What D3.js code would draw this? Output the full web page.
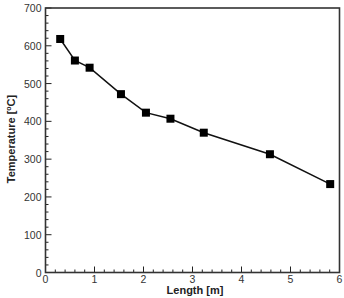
<!DOCTYPE html>
<html><head><meta charset="utf-8">
<script src="https://cdn.jsdelivr.net/npm/d3@7"></script>
<style>body{margin:0;background:#fff}svg{display:block}</style>
</head><body>
<svg id="c" width="344" height="298"></svg>
<script>
const lengths = [0.30, 0.60, 0.90, 1.54, 2.05, 2.55, 3.23, 4.58, 5.81];
const temps = [618, 561, 542, 472, 423, 407, 370, 313, 234];
const xTicks = [0, 1, 2, 3, 4, 5, 6];
const yTicks = [0, 100, 200, 300, 400, 500, 600, 700];

const svg = d3.select("#c");
const L = 45.5, R = 339.5, T = 8, B = 272.5;
const x = d3.scaleLinear().domain([0, 6]).range([L, R]);
const y = d3.scaleLinear().domain([0, 700]).range([B, T]);
const font = "Liberation Sans, Arial, sans-serif";
const ink = "#222";

// minor ticks
const gx = svg.append("g");
d3.range(0, 6.0001, 0.2).forEach(v => {
  const major = Math.abs(v - Math.round(v)) < 1e-6;
  gx.append("line").attr("x1", x(v)).attr("x2", x(v))
    .attr("y1", B).attr("y2", B - (major ? 6 : 3))
    .attr("stroke", ink).attr("stroke-width", 1);
});
d3.range(0, 700.001, 20).forEach(v => {
  const major = Math.abs(v / 100 - Math.round(v / 100)) < 1e-6;
  gx.append("line").attr("y1", y(v)).attr("y2", y(v))
    .attr("x1", L).attr("x2", L + (major ? 6 : 3))
    .attr("stroke", ink).attr("stroke-width", 1);
});

// frame
svg.append("rect").attr("x", L).attr("y", T).attr("width", R - L).attr("height", B - T)
  .attr("fill", "none").attr("stroke", "#333").attr("stroke-width", 1.6);

// tick labels
svg.append("g").selectAll("text").data(xTicks).join("text")
  .attr("x", d => x(d)).attr("y", B + 10.5).attr("text-anchor", "middle")
  .attr("font-family", font).attr("font-size", 10.5).attr("fill", "#333").text(d => d);
svg.append("g").selectAll("text").data(yTicks).join("text")
  .attr("x", L - 4).attr("y", d => y(d) + 4).attr("text-anchor", "end")
  .attr("font-family", font).attr("font-size", 10.5).attr("fill", "#333").text(d => d);

// axis titles
svg.append("text").attr("x", 195).attr("y", 294).attr("text-anchor", "middle")
  .attr("font-family", font).attr("font-size", 11).attr("font-weight", "bold").attr("fill", ink)
  .text("Length [m]");
const yt = svg.append("text").attr("transform", `translate(15,139) rotate(-90)`)
  .attr("text-anchor", "middle").attr("font-family", font).attr("font-size", 11)
  .attr("font-weight", "bold").attr("fill", ink);
yt.append("tspan").text("Temperature [");
yt.append("tspan").attr("font-size", 7).attr("dy", -4).text("o");
yt.append("tspan").attr("dy", 4).text("C]");

// line
const pts = lengths.map((d, i) => [d, temps[i]]);
svg.append("path").datum(pts)
  .attr("d", d3.line().x(d => x(d[0])).y(d => y(d[1])))
  .attr("fill", "none").attr("stroke", "#111").attr("stroke-width", 1.5);
svg.append("g").selectAll("rect").data(pts).join("rect")
  .attr("x", d => x(d[0]) - 4).attr("y", d => y(d[1]) - 4)
  .attr("width", 8).attr("height", 8).attr("fill", "#000");
</script>
</body></html>
